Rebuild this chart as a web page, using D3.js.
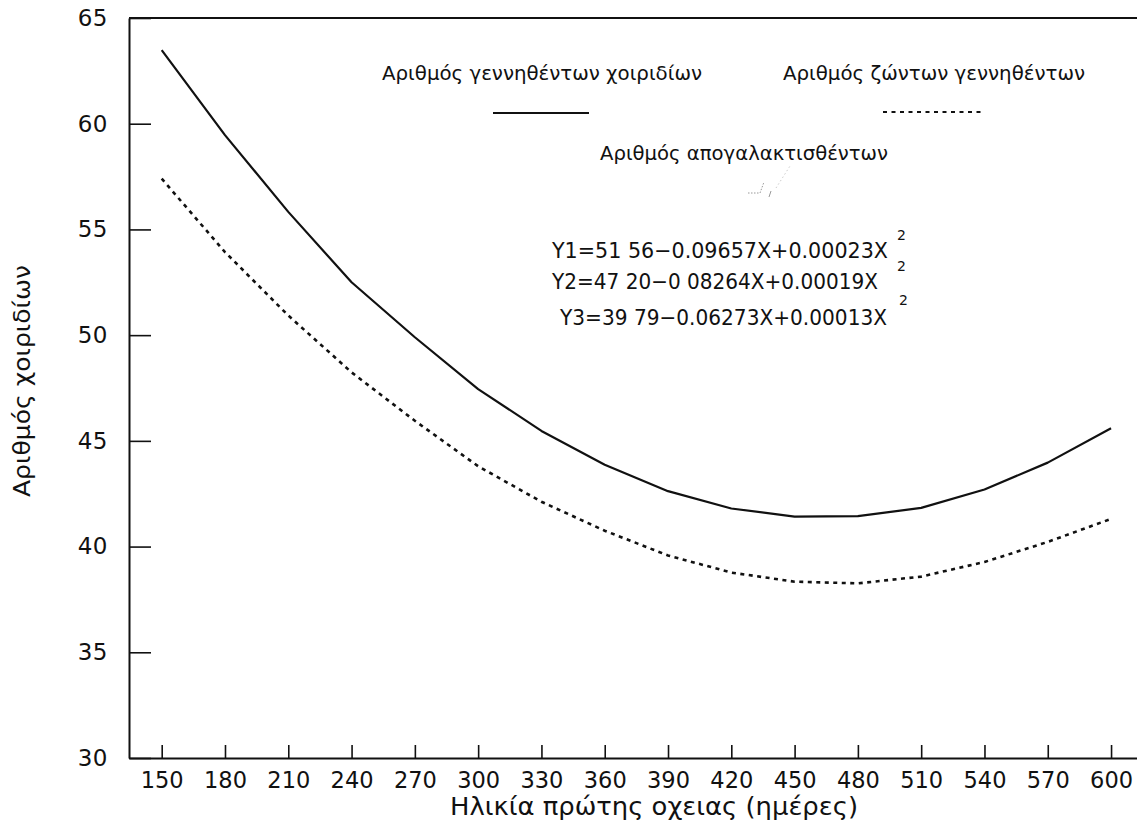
<!DOCTYPE html>
<html>
<head>
<meta charset="utf-8">
<script src="https://cdn.jsdelivr.net/npm/d3@7/dist/d3.min.js"></script>
<style>
  html, body { margin: 0; padding: 0; background: #fff; }
  svg { display: block; }
  text { font-family: "DejaVu Sans", sans-serif; fill: #111; }
</style>
</head>
<body>
<svg id="chart" width="1137" height="827"></svg>
<script>
// Age at first mating (days) and fitted litter counts
const ages = [150, 180, 210, 240, 270, 300, 330, 360, 390, 420, 450, 480, 510, 540, 570, 600];
const bornTotal = [63.48, 59.46, 55.83, 52.5, 49.9, 47.45, 45.47, 43.87, 42.62, 41.8, 41.42, 41.44, 41.83, 42.7, 43.97, 45.6];
const bornAlive = [57.4, 53.93, 50.93, 48.24, 45.95, 43.8, 42.12, 40.75, 39.58, 38.77, 38.34, 38.26, 38.58, 39.27, 40.22, 41.31];
const yTicks = [30, 35, 40, 45, 50, 55, 60, 65];

const legendLabels = ["Αριθμός γεννηθέντων χοιριδίων", "Αριθμός ζώντων γεννηθέντων", "Αριθμός απογαλακτισθέντων"];
const equations = ["Y1=51 56−0.09657X+0.00023X", "Y2=47 20−0 08264X+0.00019X", "Y3=39 79−0.06273X+0.00013X"];
const xTitle = "Ηλικία πρώτης οχειας (ημέρες)";
const yTitle = "Αριθμός χοιριδίων";

const svg = d3.select("#chart");
const plotLeft = 129, plotRight = 1137, plotTop = 18, plotBottom = 758;

const x = d3.scaleLinear().domain([134.5, 612.3]).range([plotLeft, plotRight]);
const y = d3.scaleLinear().domain([30, 65]).range([plotBottom, plotTop]);

// Frame: left and bottom axes plus the top rule
const yAxis = d3.axisLeft(y).tickValues(yTicks).tickSizeInner(-22).tickSizeOuter(0).tickPadding(21).tickFormat(d3.format("d"));
const gy = svg.append("g").attr("transform", `translate(${plotLeft},0)`).call(yAxis);
gy.select(".domain").attr("stroke", "#111").attr("stroke-width", 2);
gy.selectAll(".tick line").attr("stroke", "#111").attr("stroke-width", 1.6);
gy.selectAll(".tick text").attr("font-size", 23).attr("letter-spacing", 0.5).attr("font-family", "DejaVu Sans").attr("fill", "#111");

const xAxis = d3.axisBottom(x).tickValues(ages).tickSizeInner(-13).tickSizeOuter(0).tickPadding(14).tickFormat(d3.format("d"));
const gx = svg.append("g").attr("transform", `translate(0,${plotBottom})`).call(xAxis);
gx.select(".domain").attr("stroke", "#111").attr("stroke-width", 2);
gx.selectAll(".tick line").attr("stroke", "#111").attr("stroke-width", 1.6);
gx.selectAll(".tick text").attr("font-size", 22.5).attr("font-family", "DejaVu Sans").attr("fill", "#111");

svg.append("line").attr("x1", plotLeft).attr("x2", plotRight).attr("y1", plotTop).attr("y2", plotTop)
  .attr("stroke", "#111").attr("stroke-width", 2);

// Axis titles
svg.append("text").attr("x", 654).attr("y", 815).attr("text-anchor", "middle")
  .attr("font-size", 25).attr("textLength", 408).attr("lengthAdjust", "spacingAndGlyphs").text(xTitle);
svg.append("text").attr("transform", "translate(30,381) rotate(-90)").attr("text-anchor", "middle")
  .attr("font-size", 23).attr("textLength", 232).attr("lengthAdjust", "spacingAndGlyphs").text(yTitle);

// Curves
const line = d3.line().x((d, i) => x(ages[i])).y(d => y(d)).curve(d3.curveLinear);
svg.append("path").datum(bornTotal).attr("d", line).attr("fill", "none")
  .attr("stroke", "#111").attr("stroke-width", 2.2).attr("stroke-linejoin", "round");
svg.append("path").datum(bornAlive).attr("d", line).attr("fill", "none")
  .attr("stroke", "#111").attr("stroke-width", 2.6).attr("stroke-dasharray", "4,4.5");

// Legend
const legendText = [
  { x: 382, y: 80, len: 320 },
  { x: 783, y: 80, len: 302 },
  { x: 600, y: 160, len: 288 }
];
legendLabels.forEach((t, i) => {
  svg.append("text").attr("x", legendText[i].x).attr("y", legendText[i].y)
    .attr("font-size", 20).attr("textLength", legendText[i].len).attr("lengthAdjust", "spacingAndGlyphs").text(t);
});
svg.append("line").attr("x1", 493).attr("x2", 589).attr("y1", 113).attr("y2", 113)
  .attr("stroke", "#111").attr("stroke-width", 2.2);
svg.append("line").attr("x1", 883).attr("x2", 982).attr("y1", 112).attr("y2", 112)
  .attr("stroke", "#111").attr("stroke-width", 2.2).attr("stroke-dasharray", "4,4.5");
// faint swatch for the weaned series
const swatch = svg.append("g").attr("stroke", "#999").attr("fill", "none").attr("stroke-width", 1);
swatch.append("line").attr("x1", 748).attr("x2", 760).attr("y1", 193).attr("y2", 193).attr("stroke-dasharray", "1.5,1.5");
swatch.append("line").attr("x1", 760).attr("x2", 764).attr("y1", 193).attr("y2", 182).attr("stroke-dasharray", "1.5,1.5");
swatch.append("line").attr("x1", 769).attr("x2", 771).attr("y1", 197).attr("y2", 191);
swatch.append("line").attr("x1", 776).attr("x2", 790).attr("y1", 188).attr("y2", 166).attr("stroke", "#ccc").attr("stroke-dasharray", "1.5,2.5");

// Regression equations, each with a raised exponent
const eqPos = [
  { x: 552, y: 258, len: 336, sx: 897, sy: 240 },
  { x: 552, y: 289, len: 326, sx: 897, sy: 271 },
  { x: 560, y: 325, len: 327, sx: 899, sy: 305 }
];
equations.forEach((t, i) => {
  const p = eqPos[i];
  svg.append("text").attr("x", p.x).attr("y", p.y).attr("font-size", 21)
    .attr("textLength", p.len).attr("lengthAdjust", "spacingAndGlyphs").text(t);
  svg.append("text").attr("x", p.sx).attr("y", p.sy).attr("font-size", 14).text("2");
});
</script>
</body>
</html>
